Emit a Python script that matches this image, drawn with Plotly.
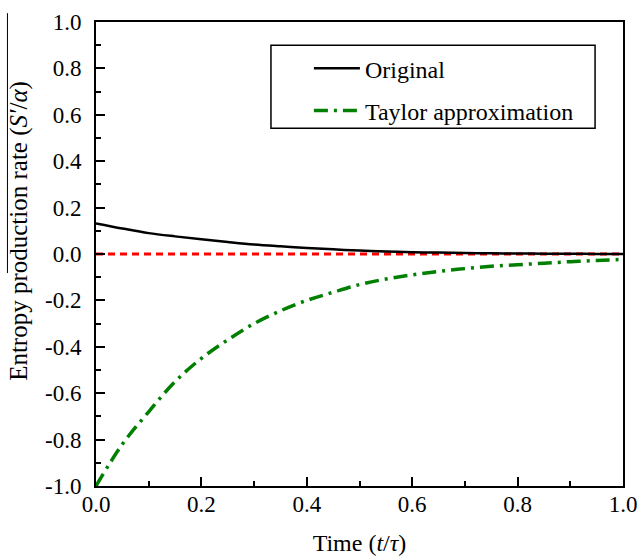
import plotly.graph_objects as go

t = [0.0, 0.05, 0.1, 0.15, 0.2, 0.25, 0.3, 0.35, 0.4, 0.45, 0.5,
     0.55, 0.6, 0.65, 0.7, 0.75, 0.8, 0.85, 0.9, 0.95, 1.0]
original = [0.132, 0.110, 0.090, 0.076, 0.064, 0.052, 0.041, 0.033, 0.026, 0.020, 0.015,
            0.011, 0.008, 0.006, 0.004, 0.003, 0.002, 0.0015, 0.001, 0.0005, 0.0]
taylor = [-1.0, -0.82, -0.68, -0.55, -0.45, -0.37, -0.30, -0.245, -0.20, -0.165, -0.132,
          -0.108, -0.090, -0.075, -0.063, -0.053, -0.046, -0.040, -0.033, -0.028, -0.023]
zero_x = [0.0, 1.0]
zero_y = [0.0, 0.0]

x_tickvals = [0.0, 0.2, 0.4, 0.6, 0.8, 1.0]
x_ticktext = ["0.0", "0.2", "0.4", "0.6", "0.8", "1.0"]
y_tickvals = [-1.0, -0.8, -0.6, -0.4, -0.2, 0.0, 0.2, 0.4, 0.6, 0.8, 1.0]
y_ticktext = ["-1.0", "-0.8", "-0.6", "-0.4", "-0.2", "0.0", "0.2", "0.4", "0.6", "0.8", "1.0"]

FONT = "Liberation Serif"

fig = go.Figure()
fig.add_trace(go.Scatter(x=zero_x, y=zero_y, mode="lines", showlegend=False,
                         line=dict(color="#ff0000", width=3, dash="7px,5px")))
fig.add_trace(go.Scatter(x=t, y=original, mode="lines", name="Original", legendgroup="a",
                         line=dict(color="black", width=2.5, shape="spline")))
fig.add_trace(go.Scatter(x=t, y=taylor, mode="lines", name="Taylor approximation", legendgroup="b",
                         line=dict(color="#007f00", width=3.5, dash="14px,6px,3px,6px", shape="spline")))

axis_common = dict(
    showgrid=False, zeroline=False, automargin=False,
    showline=True, linecolor="black", linewidth=2, mirror=True,
    ticks="inside", ticklen=9, tickwidth=2, tickcolor="black",
    tickfont=dict(family=FONT, size=23, color="black"),
    minor=dict(ticks="inside", ticklen=5, tickwidth=2, tickcolor="black", dtick=0.1),
)

fig.update_xaxes(range=[0, 1], tickmode="array", tickvals=x_tickvals, ticktext=x_ticktext,
                 title=dict(text="Time (<i>t</i>/<i>τ</i>)",
                            font=dict(family=FONT, size=24, color="black"), standoff=19),
                 ticklabelstandoff=-4, **axis_common)
fig.update_yaxes(range=[-1, 1], tickmode="array", tickvals=y_tickvals, ticktext=y_ticktext,
                 ticklabelstandoff=8, **axis_common)

fig.add_annotation(text="Entropy production rate (<i>S′</i>/<i>α</i>)",
                   xref="paper", yref="paper", x=-0.145, y=0.549,
                   xanchor="center", yanchor="middle", textangle=-90, showarrow=False,
                   font=dict(family=FONT, size=25, color="black"))

fig.add_shape(type="rect", xref="paper", yref="paper", x0=0.332, x1=0.947, y0=0.771, y1=0.950,
              line=dict(color="black", width=1.5))
fig.add_shape(type="line", xref="paper", yref="paper", x0=-0.168, x1=-0.168, y0=0.459, y1=1.019,
              line=dict(color="black", width=1))

fig.update_layout(
    width=640, height=557,
    margin=dict(l=96, r=17, t=22, b=71),
    plot_bgcolor="white", paper_bgcolor="white",
    font=dict(family=FONT, color="black"),
    legend=dict(x=0.404, y=0.948, xanchor="left", yanchor="top",
                bgcolor="rgba(0,0,0,0)", borderwidth=0,
                font=dict(family=FONT, size=24, color="black"),
                traceorder="grouped", tracegroupgap=8, itemwidth=46),
)

fig.write_html("out.html")
